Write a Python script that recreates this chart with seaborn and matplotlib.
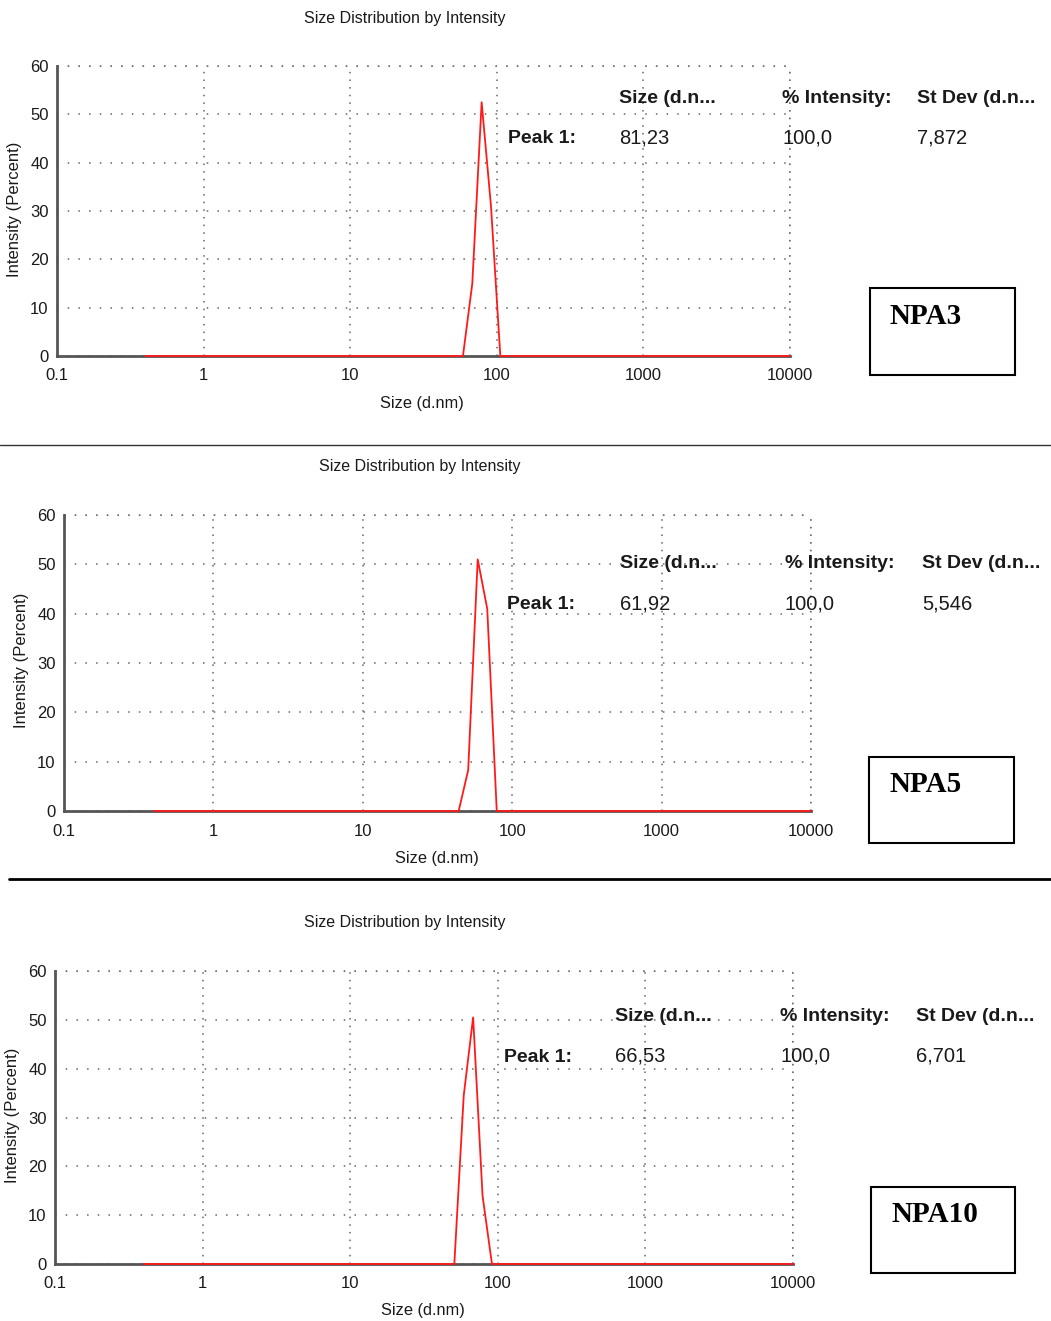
import matplotlib
matplotlib.use("Agg")
import matplotlib.pyplot as plt
import matplotlib.patches as mpatches
from matplotlib.lines import Line2D
from matplotlib.ticker import LogLocator, FixedLocator, NullFormatter
import seaborn as sns
import pandas as pd

sns.set_style("white")
plt.rcParams['font.family'] = ['Liberation Sans', 'DejaVu Sans']

W, H = 1051, 1321

# ---- data (size bins in d.nm, intensity %) ----
size_npa3 = [0.4, 58.77, 68.06, 78.82, 91.28, 105.7, 10000]
int_npa3 = [0, 0, 15.0, 52.5, 31.0, 0, 0]

size_npa5 = [0.4, 43.82, 50.75, 58.77, 68.06, 78.82, 10000]
int_npa5 = [0, 0, 8.3, 51.0, 41.0, 0, 0]

size_npa10 = [0.4, 50.75, 58.77, 68.06, 78.82, 91.28, 10000]
int_npa10 = [0, 0, 34.5, 50.5, 14.0, 0, 0]

sample_names = ["NPA3", "NPA5", "NPA10"]
peak_sizes = ["81,23", "61,92", "66,53"]
peak_intensity = ["100,0", "100,0", "100,0"]
peak_stdev = ["7,872", "5,546", "6,701"]

title_text = "Size Distribution by Intensity"
xlabel_text = "Size (d.nm)"
ylabel_text = "Intensity (Percent)"
xtick_vals = [0.1, 1, 10, 100, 1000, 10000]
xtick_labels = ["0.1", "1", "10", "100", "1000", "10000"]
ytick_vals = [0, 10, 20, 30, 40, 50, 60]

# ---- layout (pixels) ----
panels = [
    dict(size=size_npa3, inten=int_npa3, ax=(57, 790, 66, 356), title=(405, 17),
         xlab=(422, 403), ylab=(15, 209), hdr_y=103, row_y=143,
         cols=(508, 619, 782, 917), box=(870, 1015, 288, 375), name_xy=(890, 316)),
    dict(size=size_npa5, inten=int_npa5, ax=(64, 811, 515, 811), title=(420, 465),
         xlab=(437, 858), ylab=(22, 660), hdr_y=568, row_y=609,
         cols=(507, 620, 785, 922), box=(869, 1014, 757, 843), name_xy=(890, 785)),
    dict(size=size_npa10, inten=int_npa10, ax=(55, 793, 971, 1264), title=(405, 922),
         xlab=(423, 1311), ylab=(13, 1115), hdr_y=1021, row_y=1062,
         cols=(504, 615, 780, 916), box=(871, 1015, 1187, 1273), name_xy=(891, 1215)),
]

fig = plt.figure(figsize=(W / 100, H / 100), dpi=100)
fig.patch.set_facecolor("white")


def fx(x):
    return x / W


def fy(y):
    return 1 - y / H


axis_col = "#555555"
text_col = "#1a1a1a"
grid_col = "#666666"

for i, p in enumerate(panels):
    l, r, t, b = p["ax"]
    ax = fig.add_axes([fx(l), fy(b), (r - l) / W, (b - t) / H])
    df = pd.DataFrame({"size": p["size"], "intensity": p["inten"]})
    sns.lineplot(data=df, x="size", y="intensity", ax=ax, color="#ff1a1a",
                 linewidth=1.3, zorder=5, clip_on=False)
    ax.set_xscale("log")
    ax.set_xlim(0.1, 10000)
    ax.set_ylim(0, 60)
    ax.set_xlabel("")
    ax.set_ylabel("")
    for s in ["top", "right"]:
        ax.spines[s].set_visible(False)
    for s in ["left", "bottom"]:
        ax.spines[s].set_color(axis_col)
        ax.spines[s].set_linewidth(2)
    ax.xaxis.set_major_locator(FixedLocator(xtick_vals))
    ax.set_xticklabels(xtick_labels)
    ax.xaxis.set_minor_locator(LogLocator(base=10, subs=range(2, 10)))
    ax.xaxis.set_minor_formatter(NullFormatter())
    ax.yaxis.set_major_locator(FixedLocator(ytick_vals))
    ax.yaxis.set_minor_locator(FixedLocator([5, 15, 25, 35, 45, 55]))
    ax.tick_params(axis="x", which="major", length=4, width=1.6, direction="inout",
                   colors="#222222", labelcolor=text_col, labelsize=12, pad=7)
    ax.tick_params(axis="x", which="minor", length=4, width=1.5, direction="inout",
                   colors="#222222")
    ax.tick_params(axis="y", which="major", length=5, width=1.6, direction="out",
                   colors="#333333", labelcolor=text_col, labelsize=12, pad=1)
    ax.tick_params(axis="y", which="minor", length=6, width=1.4, direction="inout",
                   colors="#333333")
    ax.grid(True, which="major", axis="y", color=grid_col, linestyle=(0, (1, 6)),
            linewidth=1.1)
    ax.grid(True, which="major", axis="x", color=grid_col, linestyle=(0, (1, 4)),
            linewidth=1.1)
    ax.axhline(60, color=grid_col, linestyle=(0, (1, 6)), linewidth=1.1, clip_on=False)
    ax.axvline(10000, color=grid_col, linestyle=(0, (1, 4)), linewidth=1.1, clip_on=False)
    ax.set_facecolor("white")

    # titles and labels
    fig.text(fx(p["title"][0]), fy(p["title"][1] + 1), title_text, ha="center",
             va="center", fontsize=11.5, color=text_col)
    fig.text(fx(p["xlab"][0]), fy(p["xlab"][1]), xlabel_text, ha="center", va="center",
             fontsize=11.8, color=text_col)
    fig.text(fx(p["ylab"][0]), fy(p["ylab"][1]), ylabel_text, ha="center", va="center",
             rotation=90, fontsize=12, color=text_col)

    # results table
    c0, c1, c2, c3 = p["cols"]
    hy, ry = p["hdr_y"], p["row_y"]
    for cx, txt in [(c1, "Size (d.n..."), (c2, "% Intensity:"), (c3, "St Dev (d.n...")]:
        fig.text(fx(cx), fy(hy), txt, ha="left", va="baseline", fontsize=14,
                 fontweight="bold", color=text_col)
    fig.text(fx(c0), fy(ry), "Peak 1:", ha="left", va="baseline", fontsize=14,
             fontweight="bold", color=text_col)
    for cx, txt in [(c1, peak_sizes[i]), (c2, peak_intensity[i]), (c3, peak_stdev[i])]:
        fig.text(fx(cx), fy(ry), txt, ha="left", va="baseline", fontsize=14.5,
                 color=text_col)

    # sample name box
    bl, br, bt, bb = p["box"]
    rect = mpatches.Rectangle((fx(bl), fy(bb)), (br - bl) / W, (bb - bt) / H,
                              transform=fig.transFigure, fill=False,
                              edgecolor="black", linewidth=1.5)
    fig.add_artist(rect)
    fig.text(fx(p["name_xy"][0]), fy(p["name_xy"][1]), sample_names[i], ha="left",
             va="center", fontsize=21, fontweight="bold",
             family=["Liberation Serif", "DejaVu Serif"], color="black")

# separators
fig.add_artist(Line2D([fx(0), fx(1051)], [fy(445), fy(445)], transform=fig.transFigure,
                      color="#333333", linewidth=1))
fig.add_artist(Line2D([fx(9), fx(1051)], [fy(879), fy(879)], transform=fig.transFigure,
                      color="black", linewidth=2))

fig.savefig("out.png", dpi=100, facecolor="white")
